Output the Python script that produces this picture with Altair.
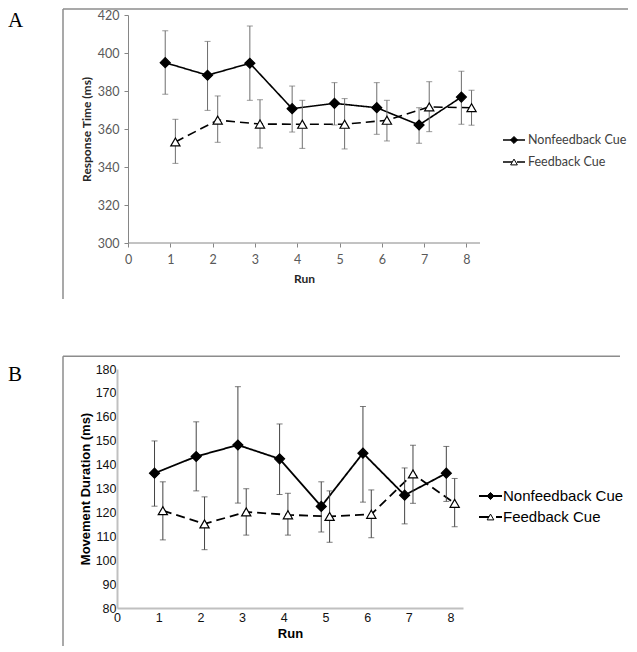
import altair as alt
import pandas as pd

runs = [1, 2, 3, 4, 5, 6, 7, 8]
series_names = ["Nonfeedback Cue", "Feedback Cue"]

# Panel A: Response Time (ms)
a_nonfb = [394.9, 388.3, 394.6, 370.7, 373.5, 371.2, 362.1, 376.8]
a_nonfb_hi = [411.7, 406.1, 414.2, 382.6, 384.4, 384.4, 371.2, 390.4]
a_nonfb_lo = [378.3, 369.8, 375.1, 358.4, 362.1, 357.2, 352.5, 362.5]
a_fb = [353.2, 364.7, 362.6, 362.5, 362.5, 364.6, 371.6, 371.2]
a_fb_hi = [365.1, 377.4, 375.4, 375.1, 376.0, 375.1, 384.9, 380.4]
a_fb_lo = [341.9, 353.0, 350.0, 349.8, 349.5, 353.7, 358.6, 362.0]

# Panel B: Movement Duration (ms)
b_nonfb = [136.4, 143.4, 148.2, 142.4, 122.5, 144.8, 127.2, 136.4]
b_nonfb_hi = [149.9, 157.9, 172.6, 157.0, 132.8, 164.3, 138.6, 147.6]
b_nonfb_lo = [122.6, 129.0, 123.9, 127.5, 111.8, 124.3, 115.2, 124.6]
b_fb = [120.7, 115.2, 120.2, 119.0, 118.3, 119.2, 136.1, 123.8]
b_fb_hi = [132.8, 126.5, 129.9, 128.0, 129.0, 129.4, 148.1, 134.2]
b_fb_lo = [108.5, 104.4, 110.5, 110.5, 107.5, 109.4, 123.8, 114.0]

x_ticks = [0, 1, 2, 3, 4, 5, 6, 7, 8]
a_y_ticks = [300, 320, 340, 360, 380, 400, 420]
b_y_ticks = [80, 90, 100, 110, 120, 130, 140, 150, 160, 170, 180]


def make_df(v1, lo1, hi1, v2, lo2, hi2):
    rows = []
    for i, r in enumerate(runs):
        rows.append({"run": r, "series": series_names[0], "value": v1[i], "lo": lo1[i], "hi": hi1[i]})
        rows.append({"run": r, "series": series_names[1], "value": v2[i], "lo": lo2[i], "hi": hi2[i]})
    return pd.DataFrame(rows)


def panel(df, s):
    base = alt.Chart(df).transform_calculate(
        xpos=f"datum.run + (datum.series == '{series_names[0]}' ? -{s['off']} : {s['off']})"
    )
    xscale = alt.Scale(domain=[s["xmin"], s["xmax"]], nice=False, zero=False)
    yscale = alt.Scale(domain=s["ydom"], nice=False, zero=False)
    xaxis = alt.Axis(values=x_ticks, title="Run", format="d", grid=False, tickCount=9,
                     labelFont=s["font"], labelFontSize=s["lfs"], labelColor=s["lcol"],
                     titleFont=s["font"], titleFontSize=s["tfs"], titleFontWeight="bold",
                     titleColor=s["tcol"], domain=s["xdomain_line"], domainColor=s["dcol"],
                     domainWidth=s["dw"], tickColor=s["dcol"], tickSize=s["ts"], ticks=s["ts"] > 0,
                     labelPadding=s["xlp"], titlePadding=s["xtp"], labelFlush=False,
                     labelOverlap=False, titleX=s["title_x"])
    yaxis = alt.Axis(values=s["yticks"], title=s["ytitle"], grid=False, tickCount=len(s["yticks"]),
                     labelFont=s["font"], labelFontSize=s["lfs"], labelColor=s["lcol"],
                     titleFont=s["font"], titleFontSize=s["tfs"], titleFontWeight="bold",
                     titleColor=s["tcol"], domainColor=s["dcol"], domainWidth=s["dw"],
                     tickColor=s["dcol"], tickSize=s["ts"], ticks=s["ts"] > 0,
                     labelPadding=s["ylp"], titlePadding=s["ytp"], labelOverlap=False,
                     offset=s["yoff"])

    def X(f):
        return alt.X(f, scale=xscale, axis=xaxis)

    def Y(f):
        return alt.Y(f, scale=yscale, axis=yaxis)

    dash_scale = alt.Scale(domain=series_names, range=[[1, 0], s["dash"]])
    lines = base.mark_line(color="black", strokeWidth=s["lw"]).encode(
        x=X("xpos:Q"), y=Y("value:Q"),
        strokeDash=alt.StrokeDash("series:N", scale=dash_scale, legend=None),
        detail="series:N",
    )
    err = base.mark_rule(color=s["ecol"], strokeWidth=1).encode(
        x=X("xpos:Q"), y=Y("lo:Q"), y2="hi:Q")
    cap_lo = base.mark_tick(orient="horizontal", color=s["ecol"], size=6, thickness=1).encode(
        x=X("xpos:Q"), y=Y("lo:Q"))
    cap_hi = base.mark_tick(orient="horizontal", color=s["ecol"], size=6, thickness=1).encode(
        x=X("xpos:Q"), y=Y("hi:Q"))
    pts = base.mark_point(filled=False, stroke="black", strokeWidth=1.2, opacity=1).encode(
        x=X("xpos:Q"), y=Y("value:Q"),
        shape=alt.Shape("series:N", scale=alt.Scale(domain=series_names, range=["diamond", "triangle-up"]), legend=None),
        fill=alt.Fill("series:N", scale=alt.Scale(domain=series_names, range=["black", "white"]), legend=None),
        size=alt.Size("series:N", scale=alt.Scale(domain=series_names, range=[100, 85]), legend=None),
    )
    layers = [lines, err, cap_lo, cap_hi, pts]

    if not s["xdomain_line"]:
        layers.append(alt.Chart(pd.DataFrame({"k": [0]})).mark_rule(color=s["dcol"], strokeWidth=s["dw"]).encode(
            x=X("a:Q"), x2="b:Q", y=Y("c:Q")
        ).transform_calculate(a="0", b=str(s["xmax"]), c=str(s["ydom"][0])))

    # legend
    shapes = ["diamond", "triangle-up"]
    fills = ["black", "white"]
    dashes = [[1, 0], s["dash"]]
    sizes = [50, 45]
    for i, name in enumerate(series_names):
        ldf = pd.DataFrame({"series": [name]})
        ly = s["leg_y"][i]
        layers.append(alt.Chart(ldf).mark_rule(color="black", strokeWidth=s["lw"], strokeDash=dashes[i]).encode(
            x=alt.value(s["leg_x0"]), x2=alt.value(s["leg_x1"]), y=alt.value(ly)))
        layers.append(alt.Chart(ldf).mark_point(shape=shapes[i], fill=fills[i], stroke="black", filled=False,
                                                 strokeWidth=1, opacity=1, size=sizes[i]).encode(
            x=alt.value((s["leg_x0"] + s["leg_x1"]) / 2), y=alt.value(ly)))
        layers.append(alt.Chart(ldf).mark_text(align="left", baseline="middle", font=s["font"],
                                                fontSize=s["legfs"], color=s["legcol"]).encode(
            x=alt.value(s["leg_tx"]), y=alt.value(ly), text="series:N"))

    # frame and panel letter
    fr = pd.DataFrame({"k": [0]})
    layers.append(alt.Chart(fr).mark_rule(color="#8c8c8c", strokeWidth=1.5).encode(
        x=alt.value(s["fx"]), y=alt.value(s["fy0"]), y2=alt.value(s["fy1"])))
    layers.append(alt.Chart(fr).mark_rule(color="#8c8c8c", strokeWidth=1.5).encode(
        x=alt.value(s["fx"]), x2=alt.value(s["fx1"]), y=alt.value(s["fy0"])))
    layers.append(alt.Chart(pd.DataFrame({"t": [s["letter"]]})).mark_text(
        align="left", baseline="top", font="Liberation Serif", fontSize=21, color="black").encode(
        x=alt.value(s["letter_x"]), y=alt.value(s["letter_y"]), text="t:N"))

    return alt.layer(*layers).properties(width=s["w"], height=s["h"])


# Both views start at page x=117; panel A's axis origin sits 11 px further right.
style_a = dict(off=0.12, xmin=-0.26, xmax=8.32, xdomain_line=False, title_x=187, yoff=-11,
               font="Lato", lfs=12.5, lcol="#595959", tfs=12, tcol="#262626",
               dcol="#868686", dw=1, ts=4, xlp=6, xtp=8, ylp=5, ytp=4, ydom=[300, 420], yticks=a_y_ticks,
               ytitle="Response Time (ms)", dash=[9, 5], lw=1.6, ecol="#6e6e6e",
               leg_y=[125, 147], leg_x0=386, leg_x1=408, leg_tx=411, legfs=12.5, legcol="#404040",
               fx=-54, fx1=511, fy0=-6, fy1=284, letter="A", letter_x=-109, letter_y=-5, w=363, h=228)

style_b = dict(off=0.1, xmin=0, xmax=8.3, xdomain_line=True, title_x=173, yoff=0,
               font="Liberation Sans", lfs=12.5, lcol="#111111", tfs=13, tcol="black",
               dcol="#c0c0c0", dw=2, ts=0, xlp=3, xtp=4, ylp=1, ytp=3, ydom=[80, 180], yticks=b_y_ticks,
               ytitle="Movement Duration (ms)", dash=[11, 6], lw=1.8, ecol="#444444",
               leg_y=[127, 148], leg_x0=362, leg_x1=385, leg_tx=386, legfs=15, legcol="black",
               fx=-54, fx1=503, fy0=-12.7, fy1=277, letter="B", letter_x=-109, letter_y=-5, w=346, h=239)

df_a = make_df(a_nonfb, a_nonfb_lo, a_nonfb_hi, a_fb, a_fb_lo, a_fb_hi)
df_b = make_df(b_nonfb, b_nonfb_lo, b_nonfb_hi, b_fb, b_fb_lo, b_fb_hi)

chart = alt.concat(panel(df_a, style_a), panel(df_b, style_b), columns=1, align="none",
                   spacing=55, bounds="full").properties(padding=0).configure_view(stroke=None
                   ).configure_axis(labelOverlap=False)

chart.save("out.html", embed_options={"renderer": "svg", "actions": False})
